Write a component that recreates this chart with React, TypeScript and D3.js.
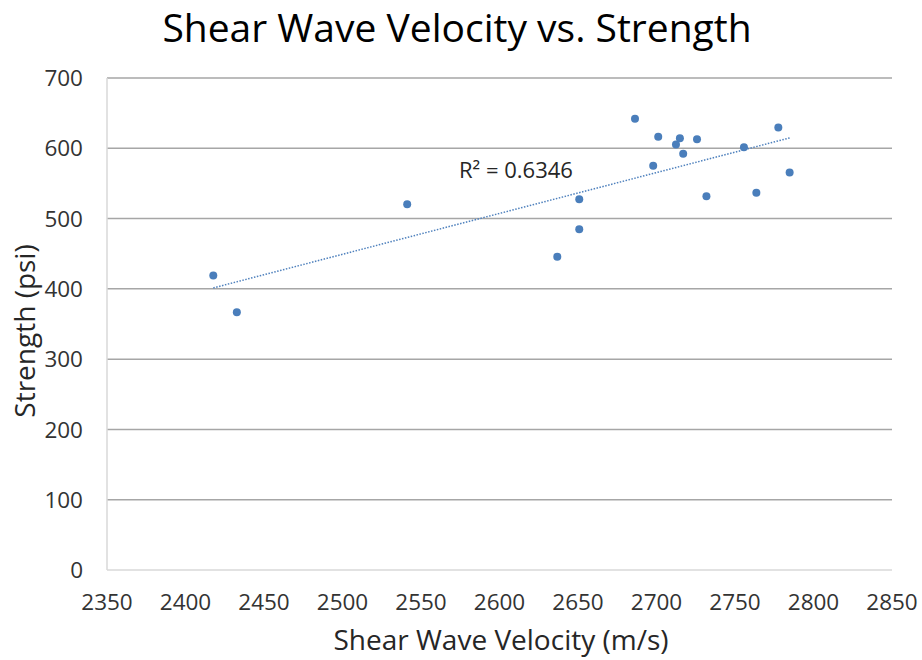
import * as d3 from "d3";
import { useEffect, useRef } from "react";

const velocity = [
  2417.7, 2432.7, 2541.2, 2636.8, 2650.8, 2650.8, 2686.3, 2697.9, 2701.1,
  2712.4, 2714.9, 2717.0, 2725.8, 2731.8, 2755.7, 2763.6, 2777.6, 2784.8,
];
const strength = [
  419, 366.8, 520.4, 445.6, 527.5, 484.8, 641.9, 575, 616.3,
  605.3, 614.3, 592.1, 612.9, 531.8, 601.5, 536.6, 629.5, 565.5,
];
const xTicks = [2350, 2400, 2450, 2500, 2550, 2600, 2650, 2700, 2750, 2800, 2850];
const yTicks = [0, 100, 200, 300, 400, 500, 600, 700];
const rSquaredLabel = "R² = 0.6346";

const W = 922;
const H = 660;
const margin = { top: 78, right: 30, bottom: 90, left: 107 };
const font = "'Open Sans', 'Noto Sans', sans-serif";

const App = () => {
  const ref = useRef<SVGSVGElement>(null);

  useEffect(() => {
    const svg = d3.select(ref.current);
    svg.selectAll("*").remove();

    const x = d3.scaleLinear().domain([2350, 2850]).range([margin.left, W - margin.right]);
    const y = d3.scaleLinear().domain([0, 700]).range([H - margin.bottom, margin.top]);

    // gridlines
    svg.append("g")
      .selectAll("line")
      .data(yTicks.filter(t => t > 0))
      .join("line")
      .attr("x1", x(2350))
      .attr("x2", x(2850))
      .attr("y1", d => y(d))
      .attr("y2", d => y(d))
      .attr("stroke", "#a6a6a6")
      .attr("stroke-width", 1.5);

    // axis lines
    svg.append("line")
      .attr("x1", x(2350)).attr("x2", x(2850))
      .attr("y1", y(0)).attr("y2", y(0))
      .attr("stroke", "#d9d9d9").attr("stroke-width", 1.5);
    svg.append("line")
      .attr("x1", x(2350)).attr("x2", x(2350))
      .attr("y1", y(0)).attr("y2", y(700))
      .attr("stroke", "#d9d9d9").attr("stroke-width", 1.5);

    // tick labels
    svg.append("g")
      .selectAll("text")
      .data(yTicks)
      .join("text")
      .attr("x", x(2350) - 24)
      .attr("y", d => y(d))
      .attr("dy", "0.36em")
      .attr("text-anchor", "end")
      .attr("font-family", font)
      .attr("font-size", 22.5)
      .attr("fill", "#333")
      .text(d => d);

    svg.append("g")
      .selectAll("text")
      .data(xTicks)
      .join("text")
      .attr("x", d => x(d))
      .attr("y", y(0) + 40)
      .attr("text-anchor", "middle")
      .attr("font-family", font)
      .attr("font-size", 22.5)
      .attr("fill", "#333")
      .text(d => d);

    // linear trendline
    const mx = d3.mean(velocity)!;
    const my = d3.mean(strength)!;
    const sxy = d3.sum(velocity, (v, i) => (v - mx) * (strength[i] - my));
    const sxx = d3.sum(velocity, v => (v - mx) ** 2);
    const slope = sxy / sxx;
    const icpt = my - slope * mx;
    const [x0, x1] = d3.extent(velocity) as [number, number];
    svg.append("line")
      .attr("x1", x(x0)).attr("y1", y(icpt + slope * x0))
      .attr("x2", x(x1)).attr("y2", y(icpt + slope * x1))
      .attr("stroke", "#4f81bd")
      .attr("stroke-width", 1.5)
      .attr("stroke-dasharray", "1.5 1.5");

    svg.append("text")
      .attr("x", 459)
      .attr("y", 178)
      .attr("font-family", font)
      .attr("font-size", 22)
      .attr("fill", "#262626")
      .text(rSquaredLabel);

    // points
    svg.append("g")
      .selectAll("circle")
      .data(velocity)
      .join("circle")
      .attr("cx", d => x(d))
      .attr("cy", (d, i) => y(strength[i]))
      .attr("r", 4)
      .attr("fill", "#4a7ebb");

    // titles
    svg.append("text")
      .attr("x", 457)
      .attr("y", 42)
      .attr("text-anchor", "middle")
      .attr("font-family", font)
      .attr("font-size", 39)
      .attr("fill", "#000")
      .text("Shear Wave Velocity vs. Strength");

    svg.append("text")
      .attr("x", 501)
      .attr("y", 650)
      .attr("text-anchor", "middle")
      .attr("font-family", font)
      .attr("font-size", 28)
      .attr("fill", "#262626")
      .text("Shear Wave Velocity (m/s)");

    svg.append("text")
      .attr("transform", `translate(35, 331) rotate(-90)`)
      .attr("text-anchor", "middle")
      .attr("font-family", font)
      .attr("font-size", 28)
      .attr("fill", "#262626")
      .text("Strength (psi)");
  }, []);

  return (
    <svg
      ref={ref}
      width={W}
      height={H}
      style={{ position: "absolute", left: 0, top: 0, background: "#fff" }}
    />
  );
};

export default App;
